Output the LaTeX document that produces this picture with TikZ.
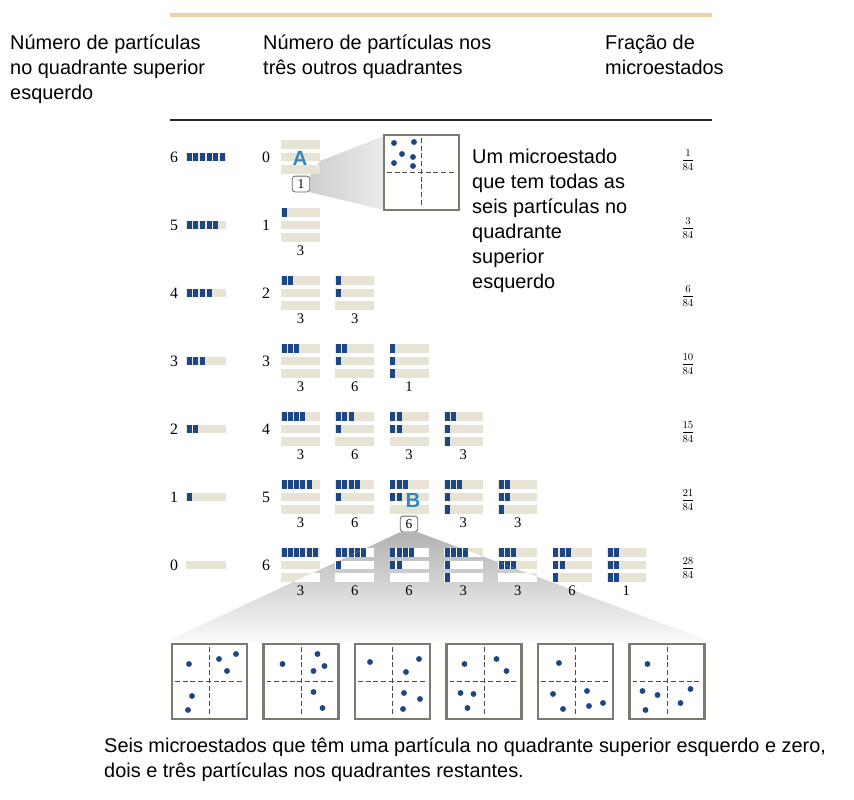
\documentclass[tikz,border=0pt]{standalone}
\usepackage{fontspec}
\usepackage{amsmath}
\setmainfont{Liberation Serif}
\setsansfont{Liberation Sans}

\definecolor{sable}{RGB}{231,228,213}
\definecolor{marine}{RGB}{28,70,132}
\definecolor{ocre}{RGB}{233,213,164}
\definecolor{cadregris}{RGB}{124,122,110}
\definecolor{bleuclair}{RGB}{50,135,186}

\tikzset{
  titre/.style={font=\sffamily\fontsize{17}{21.3}\selectfont, align=left, anchor=north west, inner sep=0},
  chiffre/.style={font=\fontsize{13.5}{14}\selectfont, inner sep=0},
  compte/.style={font=\fontsize{12.5}{13}\selectfont, inner sep=0},
  fraction/.style={font=\fontsize{9}{10}\selectfont, inner sep=0},
  etiq/.style={draw=black!60, line width=0.7pt, rounded corners=2.5pt, fill=white,
    minimum width=15pt, minimum height=13.5pt, inner sep=0, font=\fontsize{11.5}{12}\selectfont},
  lettre/.style={font=\sffamily\bfseries\fontsize{17.5}{18}\selectfont, text=bleuclair, inner sep=0},
  croix/.style={black!70, line width=0.8pt, dash pattern=on 4.2pt off 2.4pt},
  cadre/.style={cadregris, line width=2.4pt}
}

% une rangee de cellules bleues : [pas] x y n
\newcommand{\rangee}[4][6.2]{%
  \ifnum#4>0
    \foreach \k in {1,...,#4}{\fill[marine] (#2+0.8+#1*\k-#1,#3-4.25) rectangle ++(5,8.5);}%
  \fi}
% trois barres : [fond] x y a b c
\newcommand{\pile}[6][sable]{%
  \foreach \j in {-1,0,1}{\fill[#1] (#2,#3+12.3*\j-4.25) rectangle ++(39,8.5);}%
  \rangee{#2}{#3-12.3}{#4}\rangee{#2}{#3}{#5}\rangee{#2}{#3+12.3}{#6}}
% un micro-etat : x y (coin haut gauche) points
\newcommand{\microetat}[3]{%
  \fill[white] (#1,#2) rectangle ++(75,75);
  \draw[croix] (#1+37.5,#2+3) -- ++(0,69);
  \draw[croix] (#1+3,#2+37.5) -- ++(69,0);
  \foreach \u/\v in {#3}{\fill[marine] (#1+\u,#2+\v) circle (2.5pt);}
  \draw[cadre] (#1,#2) rectangle ++(75,75);}

\begin{document}
\begin{tikzpicture}[x=0.03cm, y=-0.03cm]
	\useasboundingbox (0,0) rectangle (854,800);

	% --- En-tete ---
	\draw[ocre, line width=3.4pt] (170,15) -- (712,15);
	\node[titre] (titreG) at (10,35) {Número de partículas\\no quadrante superior\\esquerdo};
	\node[titre] (titreM) at (263,35) {Número de partículas nos\\três outros quadrantes};
	\node[titre] (titreD) at (605,35) {Fração de\\microestados};
	\draw[black!85, line width=1.1pt] (170,120) -- (712,120);

	% --- Colonne de gauche et fractions ---
	\foreach \g/\fr [count=\rg from 0] in {6/1,5/3,4/6,3/10,2/15,1/21,0/28}{
		\node[chiffre] (g\rg) at (174,157+68*\rg) {\g};
		\fill[sable] (186,157+68*\rg-4.25) rectangle ++(40,8.5);
		\rangee[6.6]{186}{157+68*\rg}{\g}
		\node[chiffre] (d\rg) at (266,157+68*\rg) {\rg};
		\node[fraction] (f\rg) at (688,160+68*\rg) {$\dfrac{\fr}{84}$};
	}

	% --- 6 | 0 ---
	\node[etiq] (etiqA) at (301,184) {1};
	\shade[left color=black!19, right color=black!8] (320,161) -- (384,136) -- (384,210)
		-- (etiqA.south east) -- (etiqA.north east) -- cycle;
	\pile{281}{157}{0}{0}{0}
	\node[lettre] (lettreA) at (300,158) {A};
	\microetat{384}{135}{10/8,30/7,18/19,29/22,10/28,29/31}
	\node[titre] (texteA) at (472,149) {Um microestado\\que tem todas as\\seis partículas no\\quadrante\\superior\\esquerdo};

	% --- 5 | 1 ---
	\foreach \pa/\pb/\pc/\n [count=\i from 0] in {1/0/0/3}{
		\pile{281+54.3*\i}{225}{\pa}{\pb}{\pc}
		\node[compte] (c1-\i) at (300.5+54.3*\i,251) {\n};}

	% --- 4 | 2 ---
	\foreach \pa/\pb/\pc/\n [count=\i from 0] in {2/0/0/3,1/1/0/3}{
		\pile{281+54.3*\i}{293}{\pa}{\pb}{\pc}
		\node[compte] (c2-\i) at (300.5+54.3*\i,319) {\n};}

	% --- 3 | 3 ---
	\foreach \pa/\pb/\pc/\n [count=\i from 0] in {3/0/0/3,2/1/0/6,1/1/1/1}{
		\pile{281+54.3*\i}{361}{\pa}{\pb}{\pc}
		\node[compte] (c3-\i) at (300.5+54.3*\i,387) {\n};}

	% --- 2 | 4 ---
	\foreach \pa/\pb/\pc/\n [count=\i from 0] in {4/0/0/3,3/1/0/6,2/2/0/3,2/1/1/3}{
		\pile{281+54.3*\i}{429}{\pa}{\pb}{\pc}
		\node[compte] (c4-\i) at (300.5+54.3*\i,455) {\n};}

	% --- 1 | 5 ---
	\foreach \pa/\pb/\pc/\n [count=\i from 0] in {5/0/0/3,4/1/0/6,3/2/0/6,3/1/1/3,2/2/1/3}{
		\pile{281+54.3*\i}{497}{\pa}{\pb}{\pc}
		\ifnum\i=2 \else \node[compte] (c5-\i) at (300.5+54.3*\i,523) {\n};\fi}
	\node[lettre] (lettreB) at (413,500) {B};
	\node[etiq] (etiqB) at (409,524) {6};

	% --- entonnoir B ---
	\shade[top color=black!30, bottom color=black!2] (etiqB.south west) -- (165,642)
		-- (712,642) -- (etiqB.south east) -- cycle;

	% --- 0 | 6 ---
	\foreach \pa/\pb/\pc/\n [count=\i from 0] in {6/0/0/3,5/1/0/6,4/2/0/6,4/1/1/3,3/3/0/3,3/2/1/6,2/2/2/1}{
		\pile{281+54.3*\i}{565}{\pa}{\pb}{\pc}}
	\begin{scope}
		\clip (etiqB.south west) -- (165,642) -- (712,642) -- (etiqB.south east) -- cycle;
		\foreach \pa/\pb/\pc [count=\i from 0] in {6/0/0,5/1/0,4/2/0,4/1/1,3/3/0,3/2/1,2/2/2}{
			\pile[white]{281+54.3*\i}{565}{\pa}{\pb}{\pc}}
	\end{scope}
	\foreach \n [count=\i from 0] in {3,6,6,3,3,6,1}{
		\node[compte] (c6-\i) at (300.5+54.3*\i,591) {\n};}

	% --- Six micro-etats ---
	\microetat{172}{644}{17/20,47/15,64/10,55/27,20/52,16/66}
	\microetat{263.5}{644}{19/20,54/10,61/22,50/27,50/48,59/64}
	\microetat{355}{644}{15/18,64/15,51/28,49/49,65/55,48/65}
	\microetat{446.5}{644}{18/20,50/15,60/27,14/49,27/50,21/64}
	\microetat{538}{644}{21/19,15/50,25/65,49/47,51/62,65/59}
	\microetat{629.5}{644}{18/20,13/47,28/51,16/66,51/59,61/45}

	\node[titre] (legende) at (104,738) {Seis microestados que têm uma partícula no quadrante superior esquerdo e zero,\\dois e três partículas nos quadrantes restantes.};
\end{tikzpicture}
\end{document}
